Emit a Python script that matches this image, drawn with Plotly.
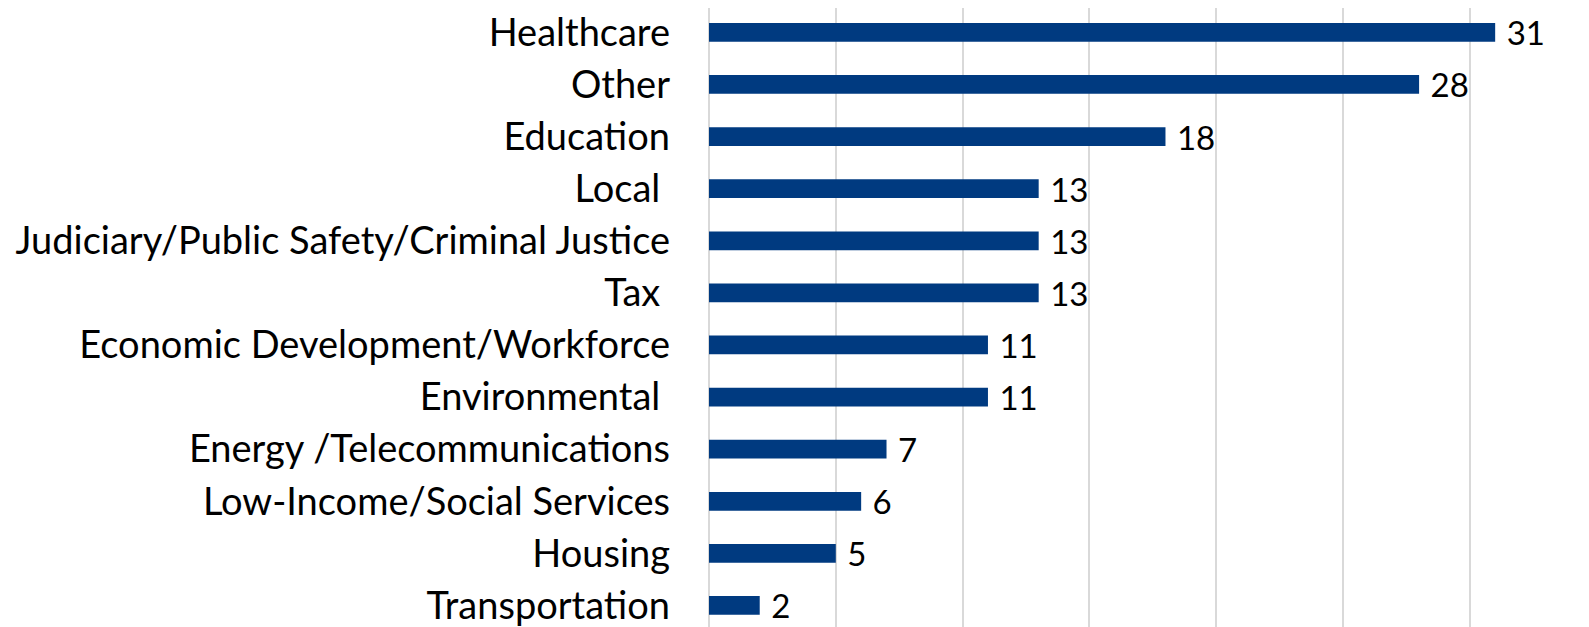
import plotly.graph_objects as go

categories = [
    "Healthcare",
    "Other",
    "Education",
    "Local\u00a0",
    "Judiciary/Public Safety/Criminal Justice",
    "Tax\u00a0",
    "Economic Development/Workforce",
    "Environmental\u00a0",
    "Energy /Telecommunications",
    "Low-Income/Social Services",
    "Housing",
    "Transportation",
]
values = [31, 28, 18, 13, 13, 13, 11, 11, 7, 6, 5, 2]

cats_plot = categories[::-1]
vals_plot = values[::-1]

FONT = "Lato, 'Open Sans', sans-serif"

fig = go.Figure(
    go.Bar(
        x=vals_plot,
        y=cats_plot,
        orientation="h",
        marker=dict(color="#003A80", line=dict(width=0)),
        width=0.36,
        text=["\u00a0" + str(v) for v in vals_plot],
        textposition="outside",
        constraintext="none",
        textfont=dict(family=FONT, size=33, color="#000000"),
        cliponaxis=False,
    )
)

fig.update_layout(
    width=1581,
    height=619,
    margin=dict(l=701, r=0, t=0, b=0, autoexpand=False),
    paper_bgcolor="white",
    plot_bgcolor="white",
    showlegend=False,
    font=dict(family=FONT, color="#000000"),
    xaxis=dict(
        range=[0, 34.7],
        dtick=5,
        showgrid=True,
        gridcolor="#d9d9d9",
        gridwidth=1.5,
        zeroline=True,
        zerolinecolor="#d9d9d9",
        zerolinewidth=1.5,
        showticklabels=False,
        fixedrange=True,
        automargin=False,
    ),
    yaxis=dict(
        type="category",
        range=[-0.413, 11.468],
        tickfont=dict(family=FONT, size=38, color="#000000"),
        ticklabelstandoff=38,
        showgrid=False,
        showline=False,
        zeroline=False,
        automargin=False,
    ),
)

fig.write_html("out.html")
